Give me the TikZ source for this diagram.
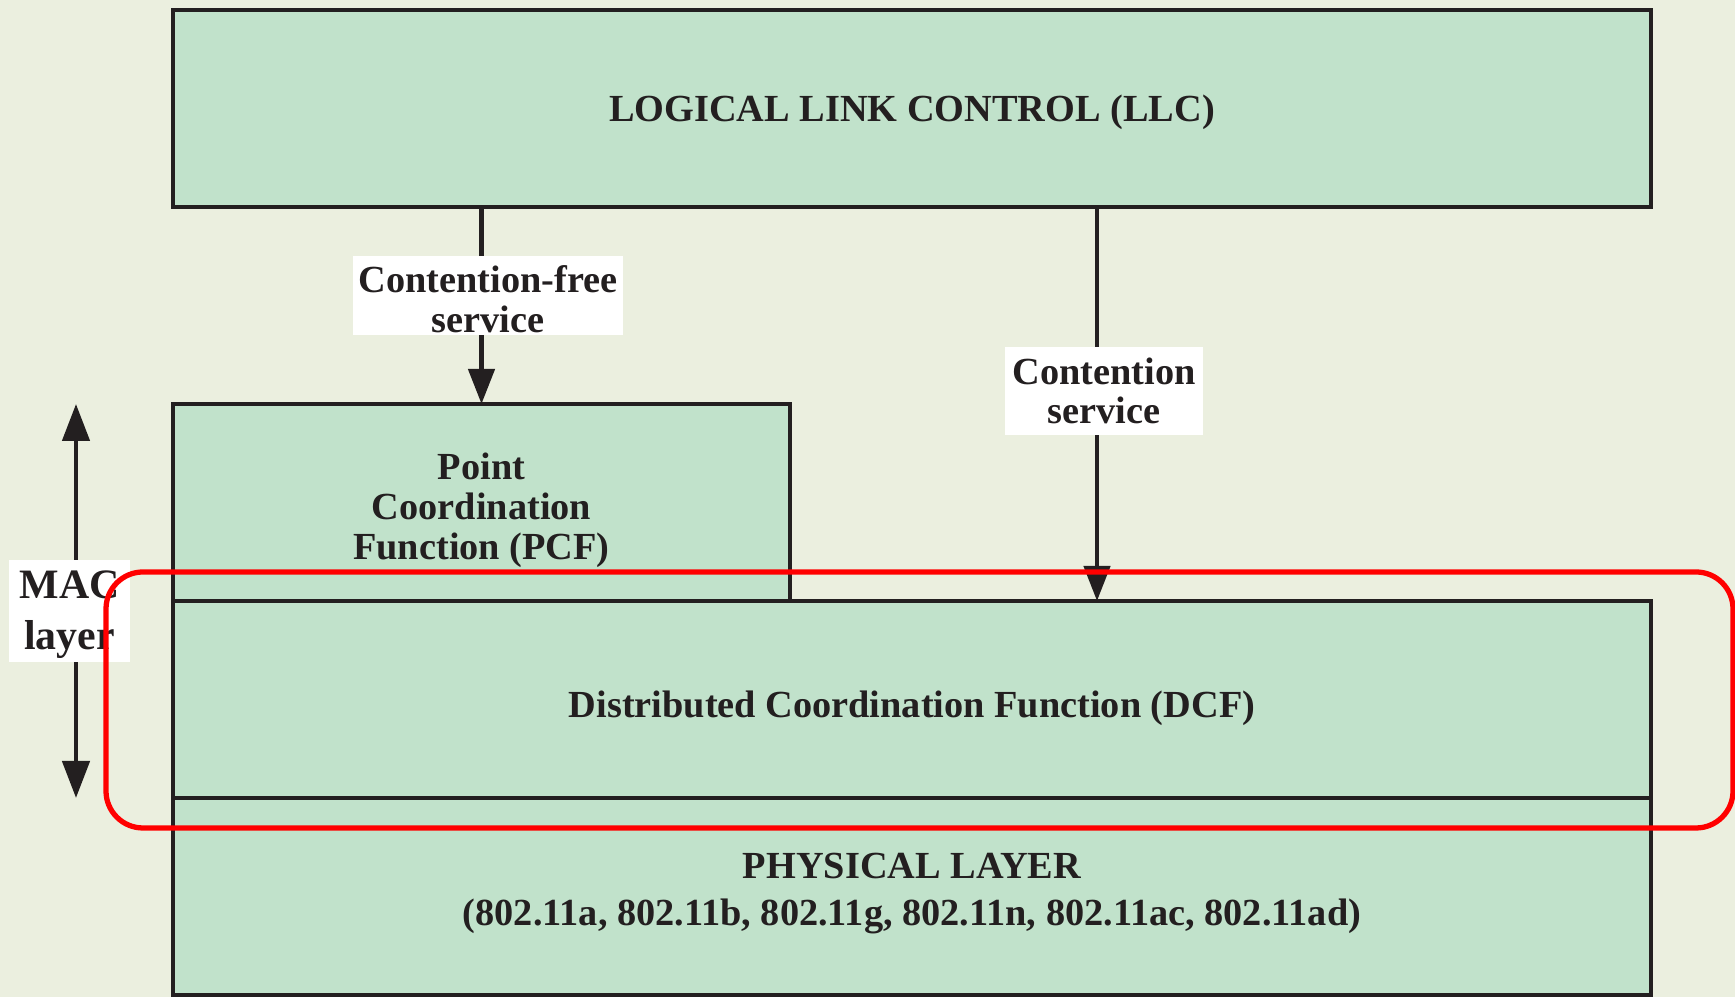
\documentclass[tikz,border=0pt]{standalone}
\usepackage{fontspec}
\setmainfont{Liberation Serif}
\usetikzlibrary{positioning,arrows.meta}

\definecolor{paper}{HTML}{EBEFDF}
\definecolor{layer}{HTML}{C1E2CB}
\definecolor{ink}{HTML}{231F20}

\begin{document}
\begin{tikzpicture}[
    box/.style={draw=ink, fill=layer, line width=1.3pt, outer sep=0pt,
                minimum width=14.78cm, minimum height=1.97cm, align=center,
                text=ink, font=\bfseries\fontsize{10.9}{11.3}\selectfont},
    lbl/.style={fill=white, inner sep=0pt, align=center, text=ink,
                font=\bfseries\fontsize{10.9}{11.3}\selectfont},
    arr/.style={draw=ink, line width=1.3pt, -{Triangle[length=3.5mm,width=2.6mm]}},
    focus/.style={draw=red, line width=1.5pt, rounded corners=0.37cm,
                  minimum width=16.27cm, minimum height=2.56cm}
]

% background and page size
\fill[paper] (0,0) rectangle (17.35,9.97);
\useasboundingbox (0,0) rectangle (17.35,9.97);

% layer boxes
\node[box, text depth=4.2pt] (phy) at (9.12,1.005) {PHYSICAL LAYER\\[2.2pt]
    (802.11a, 802.11b, 802.11g, 802.11n, 802.11ac, 802.11ad)};
\node[box, text height=10.2pt, text depth=0pt, above=0pt of phy] (dcf)
    {Distributed Coordination Function (DCF)};
\node[box, text height=32.3pt, text depth=0pt, minimum width=6.17cm,
      anchor=south west] (pcf) at (dcf.north west)
    {Point\\Coordination\\Function (PCF)};
\node[box, text depth=0pt] (llc) at (9.12,8.885) {LOGICAL LINK CONTROL (LLC)};

% services from LLC
\coordinate (ctop) at ([xshift=1.85cm]llc.south);
\draw[arr] (pcf.north |- llc.south) -- (pcf.north);
\draw[arr] (ctop) -- (ctop |- dcf.north);

\node[lbl, text height=20.8pt, text depth=0pt, minimum width=2.70cm,
      minimum height=0.79cm] (cfree) at (4.88,7.015) {Contention-free\\service};
\node[lbl, minimum width=1.98cm, minimum height=0.88cm] (cserv) at (11.04,6.06)
    {Contention\\service};

% MAC layer extent
\coordinate (macx) at (0.76,0);
\draw[draw=ink, line width=1.3pt,
      {Triangle[length=3.7mm,width=2.7mm]}-{Triangle[length=3.7mm,width=2.7mm]}]
    (macx |- pcf.north) -- (macx |- dcf.south);
\node[lbl, text depth=0.7pt, minimum width=1.21cm, minimum height=1.02cm,
      font=\bfseries\fontsize{11.9}{14.5}\selectfont] (mac) at (0.695,3.86)
    {MAC\\layer};

% highlight round DCF
\node[focus] (hl) at (9.195,2.97) {};

\end{tikzpicture}
\end{document}
